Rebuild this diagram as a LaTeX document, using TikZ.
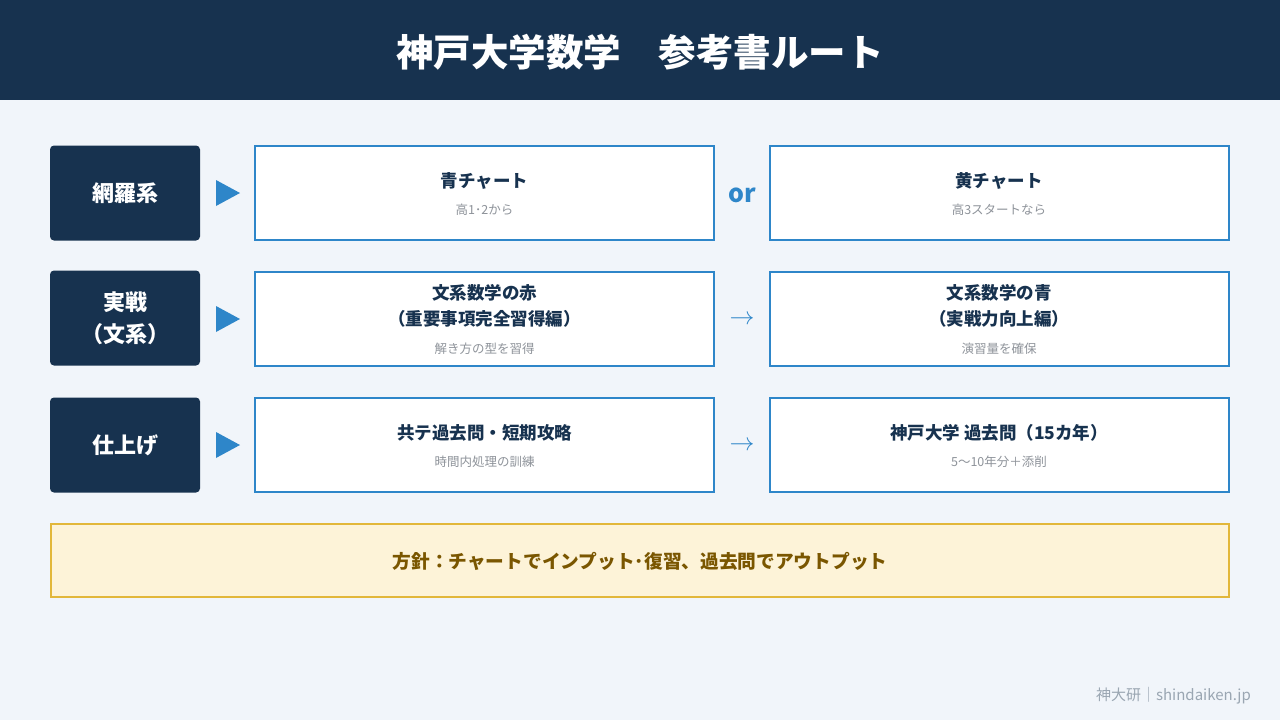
\documentclass[tikz,border=0pt]{standalone}
\usepackage{fontspec}
\setmainfont{Noto Sans CJK JP}
\usetikzlibrary{positioning}
\definecolor{navy}{HTML}{17324F}
\definecolor{bg}{HTML}{F1F5FA}
\definecolor{accent}{HTML}{2E86C9}
\definecolor{subgray}{HTML}{8E939A}
\definecolor{notefill}{HTML}{FDF3D8}
\definecolor{noteborder}{HTML}{E2B73A}
\definecolor{notetext}{HTML}{7A5600}
\definecolor{footgray}{HTML}{9AA6B2}
\tikzset{
  labelbox/.style={fill=navy, rounded corners=4pt, minimum width=150pt, minimum height=95pt, text=white, font=\fontsize{22}{32}\selectfont\bfseries, align=center, inner sep=0pt},
  bookbox/.style={draw=accent, line width=2pt, fill=white, minimum width=459pt, minimum height=94pt, inner sep=0pt},
  titletext/.style={text=navy, font=\fontsize{17.5}{26}\selectfont\bfseries, align=center, inner sep=0pt},
  subtext/.style={text=subgray, font=\fontsize{12.5}{16}\selectfont, inner sep=0pt},
  tri/.style={fill=accent, draw=none},
  joiner/.style={text=accent, inner sep=0pt}
}
\begin{document}
\begin{tikzpicture}[x=1pt,y=-1pt]
\useasboundingbox (0,0) rectangle (1280,720);
\fill[bg] (0,0) rectangle (1280,720);
\fill[navy] (0,0) rectangle (1280,100);
\node[text=white, font=\fontsize{37.5}{42}\selectfont\bfseries, inner sep=0pt] (title) at (640,52) {神戸大学数学\hspace{1em}参考書ルート};

% row 1
\node[labelbox] (l1) at (125,193) {網羅系};
\node[bookbox] (a1) at (484.5,193) {};
\node[bookbox] (b1) at (999,193) {};
\node[titletext] (a1t) at (484.5,181) {青チャート};
\node[subtext] (a1s) at (484.5,210) {高1･2から};
\node[titletext] (b1t) at (999,181) {黄チャート};
\node[subtext] (b1s) at (999,210) {高3スタートなら};
\node[joiner, font=\fontsize{25}{28}\selectfont\bfseries] (or1) at (742,195) {or};

% row 2
\node[labelbox] (l2) at (125,318) {実戦\\（文系）};
\node[bookbox] (a2) at (484.5,319) {};
\node[bookbox] (b2) at (999,319) {};
\node[titletext] (a2t) at (484.5,306) {文系数学の赤\\（重要事項完全習得編）};
\node[subtext] (a2s) at (484.5,349) {解き方の型を習得};
\node[titletext] (b2t) at (999,306) {文系数学の青\\（実戦力向上編）};
\node[subtext] (b2s) at (999,349) {演習量を確保};
\node[joiner, font=\fontsize{27}{28}\selectfont] (ar2) at (742,320) {$\rightarrow$};

% row 3
\node[labelbox] (l3) at (125,445) {仕上げ};
\node[bookbox] (a3) at (484.5,445) {};
\node[bookbox] (b3) at (999,445) {};
\node[titletext] (a3t) at (484.5,433) {共テ過去問・短期攻略};
\node[subtext] (a3s) at (484.5,462) {時間内処理の訓練};
\node[titletext] (b3t) at (999,433) {神戸大学 過去問（15カ年）};
\node[subtext] (b3s) at (999,462) {5〜10年分＋添削};
\node[joiner, font=\fontsize{27}{28}\selectfont] (ar3) at (742,446) {$\rightarrow$};

% triangles
\foreach \y in {193,319,445}{
  \fill[tri] (216,\y-13) -- (240,\y) -- (216,\y+13) -- cycle;
}

% note
\node[draw=noteborder, line width=2pt, fill=notefill, minimum width=1178pt, minimum height=73pt, inner sep=0pt] (note) at (639.5,560) {};
\node[text=notetext, font=\fontsize{18.7}{24}\selectfont\bfseries, inner sep=0pt] (notet) at (640,561) {方針：チャートでインプット･復習、過去問でアウトプット};

% footer
\node[text=footgray, font=\fontsize{15}{18}\selectfont, anchor=east, inner sep=0pt] (foot) at (1251,696) {神大研｜shindaiken.jp};
\end{tikzpicture}
\end{document}
